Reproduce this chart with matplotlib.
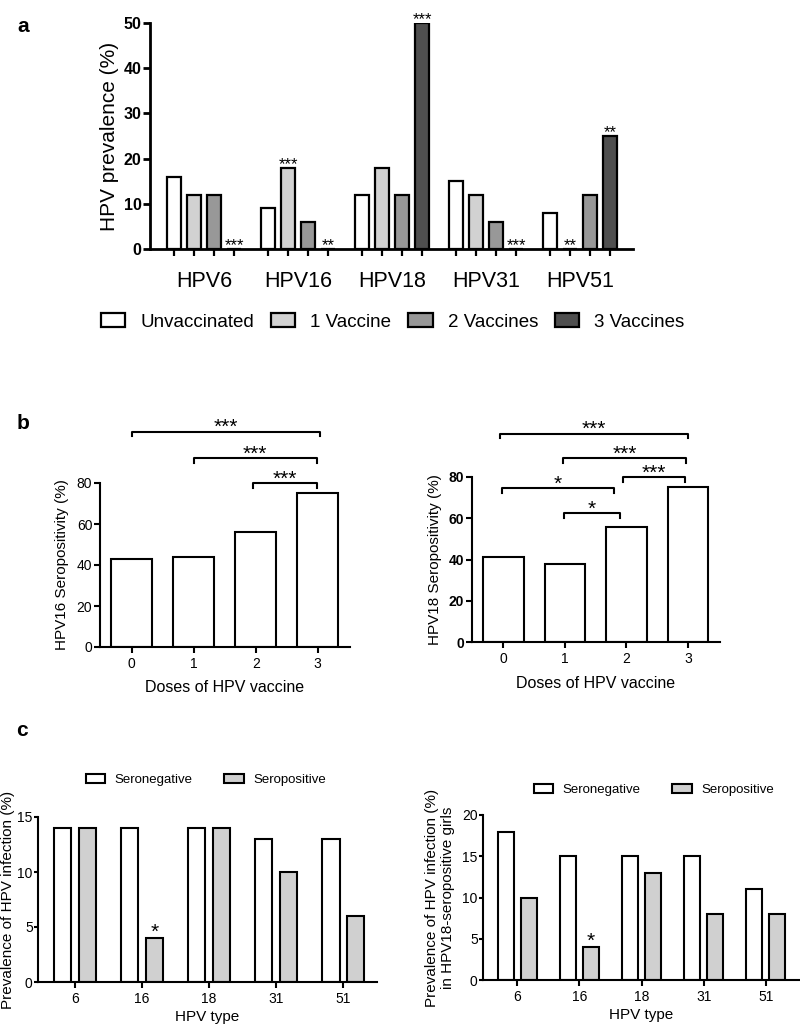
import matplotlib
matplotlib.use("Agg")
import matplotlib.pyplot as plt
from matplotlib.patches import Patch
import numpy as np

plt.rcParams['font.family'] = ['Liberation Sans', 'DejaVu Sans']

# ---- panel a data ----
a_groups = ["HPV6", "HPV16", "HPV18", "HPV31", "HPV51"]
a_series = ["Unvaccinated", "1 Vaccine", "2 Vaccines", "3 Vaccines"]
a_unvacc = [16, 9, 12, 15, 8]
a_one = [12, 18, 18, 12, 0]
a_two = [12, 6, 12, 6, 12]
a_three = [0, 0, 50, 0, 25]
a_colors = ["white", "#d2d2d2", "#989898", "#4f4f4f"]
# (group index, series index, label)
a_stars = [(0, 3, "***"), (1, 1, "***"), (1, 3, "**"), (2, 3, "***"),
           (3, 3, "***"), (4, 1, "**"), (4, 3, "**")]

# ---- panel b data ----
b_doses = ["0", "1", "2", "3"]
b_hpv16 = [43, 44, 56, 75]
b_hpv18 = [41, 38, 56, 75]
# (x start, x end, height, label)
b16_brackets = [(0.0, 3.03, 105, "***"), (1.0, 2.98, 92, "***"), (1.95, 2.98, 80, "***")]
b18_brackets = [(-0.06, 3.0, 101, "***"), (0.97, 2.97, 89, "***"), (1.94, 2.95, 80, "***"),
                (-0.02, 1.79, 74.5, "*"), (0.98, 1.9, 62.5, "*")]

# ---- panel c data ----
c_types = ["6", "16", "18", "31", "51"]
c1_neg = [14, 14, 14, 13, 13]
c1_pos = [14, 4, 14, 10, 6]
c2_neg = [18, 15, 15, 15, 11]
c2_pos = [10, 4, 13, 8, 8]

W, H = 800, 1027
fig = plt.figure(figsize=(W / 100, H / 100), dpi=100)


def rect(x0, y0, x1, y1):
    return [x0 / W, 1 - y1 / H, (x1 - x0) / W, (y1 - y0) / H]


def style(ax, lw=1.5):
    ax.spines['top'].set_visible(False)
    ax.spines['right'].set_visible(False)
    ax.spines['left'].set_linewidth(lw)
    ax.spines['bottom'].set_linewidth(lw)
    ax.tick_params(direction='out', width=lw, length=4)
    ax.tick_params(axis='y', pad=1.5)


# ================= panel a =================
ax = fig.add_axes(rect(150, 23, 633, 249))
style(ax, 2)
gstep = 4.7
vals = [a_unvacc, a_one, a_two, a_three]
for k in range(4):
    xs = np.arange(5) * gstep + k
    ax.bar(xs, vals[k], width=0.7, color=a_colors[k], edgecolor='black', linewidth=1.6)
for g, k, lab in a_stars:
    ax.annotate(lab, (g * gstep + k, vals[k][g]), xytext=(0, -3), textcoords='offset points',
                ha='center', va='bottom', fontsize=12)
ax.set_xlim(-1.2, 22.95)
ax.set_ylim(0, 50)
ax.set_yticks([0, 10, 20, 30, 40, 50])
for t in ax.get_yticklabels():
    t.set_fontweight('bold')
ax.tick_params(axis='y', labelsize=11.5, length=5, pad=1)
ax.set_xticks(np.arange(5) * gstep + 1.5)
ax.set_xticklabels(a_groups, fontsize=15.5)
ax.tick_params(axis='x', length=0, pad=16)
ax.set_xticks([g * gstep + k for g in range(5) for k in range(4)], minor=True)
ax.tick_params(axis='x', which='minor', length=5, width=1.6)
ax.set_ylabel("HPV prevalence (%)", fontsize=15, va='center')
ax.yaxis.set_label_coords(-0.083, 0.5)
handles = [Patch(facecolor=c, edgecolor='black', linewidth=1.6) for c in a_colors]
fig.legend(handles, a_series, loc='center', bbox_to_anchor=(0.491, 1 - 322 / H), ncol=4,
           frameon=False, fontsize=13.5, handlelength=1.3, handleheight=0.7,
           handletextpad=0.8, columnspacing=0.9)
fig.text(23 / W, 1 - 27 / H, "a", fontsize=15, fontweight='bold', ha='center', va='center')


# ================= panel b =================
def seropos(ax, values, brackets, ylab, labx, bold):
    style(ax)
    x = np.arange(len(values))
    ax.bar(x, values, width=0.66, color='white', edgecolor='black', linewidth=1.5)
    ax.set_xlim(-0.51, 3.52)
    ax.set_ylim(0, 80)
    ax.set_yticks([0, 20, 40, 60, 80])
    ax.set_xticks(x)
    ax.set_xticklabels(b_doses)
    ax.tick_params(labelsize=10)
    if bold:
        for t in ax.get_yticklabels():
            t.set_fontweight('bold')
    for x1, x2, y, lab in brackets:
        ax.plot([x1, x1, x2, x2], [y - 2.2, y, y, y - 2.2], color='black', lw=1.5, clip_on=False)
        ax.annotate(lab, ((x1 + x2) / 2, y), xytext=(0, -4), textcoords='offset points',
                    ha='center', va='bottom', fontsize=15, annotation_clip=False)
    ax.set_ylabel(ylab, fontsize=11, va='center')
    ax.yaxis.set_label_coords(labx, 0.5)
    ax.set_xlabel("Doses of HPV vaccine", fontsize=11.5, va='center')
    ax.xaxis.set_label_coords(0.5, -0.25)


ax1 = fig.add_axes(rect(100, 483, 350, 647))
seropos(ax1, b_hpv16, b16_brackets, "HPV16 Seropositivity (%)", -0.152, False)
ax2 = fig.add_axes(rect(472, 477, 720, 642))
seropos(ax2, b_hpv18, b18_brackets, "HPV18 Seropositivity (%)", -0.149, True)
fig.text(23 / W, 1 - 423 / H, "b", fontsize=15, fontweight='bold', ha='center', va='center')


# ================= panel c =================
def infection(ax, neg, pos, ymax, ylab, labx, xmax, leg_xy):
    style(ax)
    x = np.arange(len(neg))
    ax.bar(x - 0.185, neg, width=0.255, color='white', edgecolor='black', linewidth=1.5)
    ax.bar(x + 0.185, pos, width=0.255, color='#d0d0d0', edgecolor='black', linewidth=1.5)
    ax.annotate("*", (1 + 0.185, pos[1]), xytext=(0, -3), textcoords='offset points',
                ha='center', va='bottom', fontsize=15)
    ax.set_xlim(-0.55, xmax)
    ax.set_ylim(0, ymax)
    ax.set_yticks(np.arange(0, ymax + 1, 5))
    ax.set_xticks(x)
    ax.set_xticklabels(c_types)
    ax.tick_params(labelsize=10)
    ax.tick_params(axis='y', length=3, pad=0.8)
    ax.set_ylabel(ylab, fontsize=11, va='center')
    ax.yaxis.set_label_coords(labx, 0.5)
    ax.set_xlabel("HPV type", fontsize=11, va='center')
    ax.xaxis.set_label_coords(0.5, -0.212)
    hh = [Patch(facecolor='white', edgecolor='black', linewidth=1.5),
          Patch(facecolor='#d0d0d0', edgecolor='black', linewidth=1.5)]
    fig.legend(hh, ["Seronegative", "Seropositive"], loc='center',
               bbox_to_anchor=(leg_xy[0] / W, 1 - leg_xy[1] / H), ncol=2, frameon=False,
               fontsize=9.5, handlelength=1.45, handleheight=0.7, handletextpad=0.75,
               columnspacing=2.4)


ax3 = fig.add_axes(rect(38, 817, 377, 982))
infection(ax3, c1_neg, c1_pos, 15, "Prevalence of HPV infection (%)", -0.0885, 4.5, (206, 780))
ax4 = fig.add_axes(rect(483, 815, 800, 980))
infection(ax4, c2_neg, c2_pos, 20, "Prevalence of HPV infection (%)\nin HPV18-seropositive girls",
          -0.136, 4.55, (654, 790))
fig.text(22 / W, 1 - 730 / H, "c", fontsize=15, fontweight='bold', ha='center', va='center')

fig.savefig("out.png", dpi=100)
